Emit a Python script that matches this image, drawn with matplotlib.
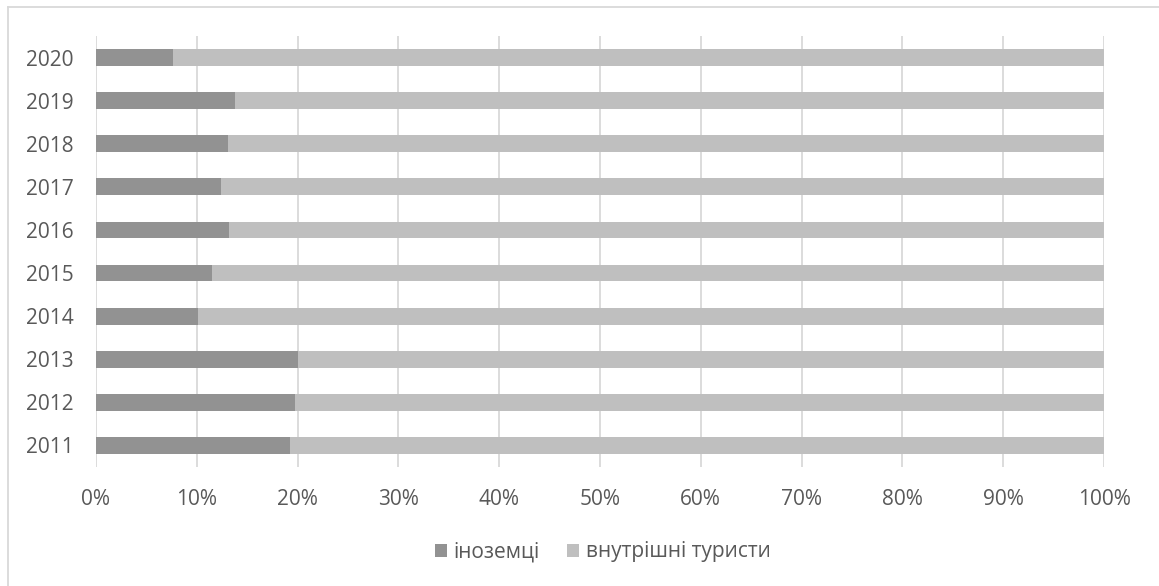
import matplotlib
matplotlib.use("Agg")
import matplotlib.pyplot as plt
from matplotlib.ticker import PercentFormatter
from matplotlib.patches import Patch
from matplotlib.lines import Line2D

years = ["2011", "2012", "2013", "2014", "2015", "2016", "2017", "2018", "2019", "2020"]
foreigners = [19.25, 19.75, 20.05, 10.1, 11.5, 13.2, 12.4, 13.1, 13.8, 7.6]
domestic = [100 - v for v in foreigners]
series_names = ["іноземці", "внутрішні туристи"]
colors = ["#929292", "#BFBFBF"]

plt.rcParams["font.family"] = ["Open Sans", "DejaVu Sans"]
text_color = "#595959"
font_size = 15

fig = plt.figure(figsize=(11.59, 5.86), dpi=100)
ax = fig.add_axes([96 / 1159, 1 - 467 / 586, (1104 - 96) / 1159, (467 - 36) / 586])

pos = list(range(len(years)))
ax.barh(pos, foreigners, height=0.39, color=colors[0], zorder=3)
ax.barh(pos, domestic, left=foreigners, height=0.39, color=colors[1], zorder=3)

ax.set_xlim(0, 100)
ax.set_ylim(-0.5, len(years) - 0.5)
ax.set_xticks(range(0, 101, 10))
ax.xaxis.set_major_formatter(PercentFormatter(decimals=0))
ax.set_yticks(pos)
ax.set_yticklabels(years)
ax.grid(axis="x", color="#D9D9D9", linewidth=1.3, zorder=0)
for s in ax.spines.values():
    s.set_visible(False)
ax.tick_params(length=0, labelsize=font_size, labelcolor=text_color)
ax.tick_params(axis="x", pad=16)
ax.tick_params(axis="y", pad=16)

handles = [Patch(facecolor=c, edgecolor="none") for c in colors]
fig.legend(handles, series_names, loc="center left", bbox_to_anchor=(416 / 1159, 1 - 552 / 586),
           ncol=2, frameon=False, fontsize=font_size, labelcolor=text_color,
           handlelength=0.6, handleheight=0.6, handletextpad=0.3, columnspacing=1.3)

# chart frame (top and left edges)
fig.add_artist(Line2D([8 / 1159, 1], [1 - 7 / 586, 1 - 7 / 586], color="#D9D9D9", linewidth=1.3))
fig.add_artist(Line2D([8 / 1159, 8 / 1159], [0, 1 - 7 / 586], color="#D9D9D9", linewidth=1.3))

fig.savefig("out.png", dpi=100)
